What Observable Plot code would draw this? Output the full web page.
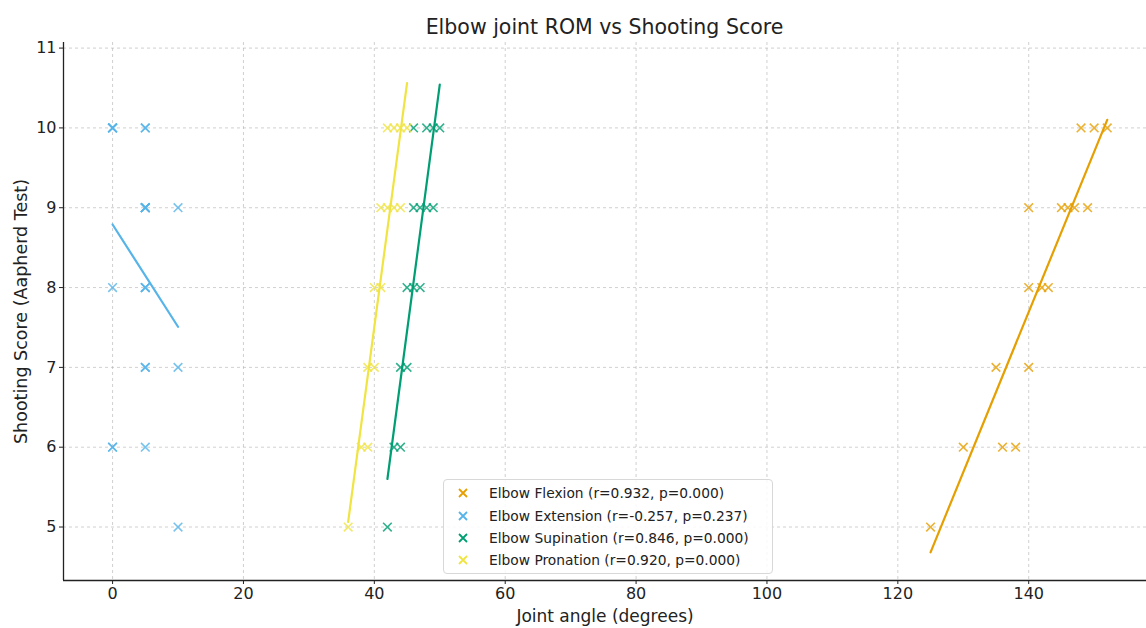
<!DOCTYPE html>
<html>
<head>
<meta charset="utf-8">
<script src="https://cdn.jsdelivr.net/npm/d3@7"></script>
<script src="https://cdn.jsdelivr.net/npm/@observablehq/plot@0.6"></script>
<style>
  html, body { margin: 0; padding: 0; background: #fff; }
  body { font-family: "DejaVu Sans", sans-serif; color: #222; }
  #wrap { position: relative; width: 1146px; height: 628px; overflow: hidden; }
  #title { box-sizing: border-box; height: 38px; padding-top: 15px; padding-left: 63px; font-size: 20.5px; line-height: 25px; text-align: center; white-space: nowrap; }
  #legend { position: absolute; left: 443px; top: 479px; width: 330px; height: 95px; box-sizing: border-box;
            border: 1px solid #d8d8d8; border-radius: 4px; background: rgba(255,255,255,0.85); font-size: 13.8px; padding-top: 2px; white-space: nowrap; }
  .row { height: 22.4px; display: flex; align-items: center; }
  .row svg { margin-left: 14px; margin-right: 21px; }
</style>
</head>
<body>
<div id="wrap">
  <div id="title">Elbow joint ROM vs Shooting Score</div>
  <div id="chart"></div>
  <div id="legend"></div>
</div>
<script>
// ---- Data ----
const seriesNames = ["Elbow Flexion", "Elbow Extension", "Elbow Supination", "Elbow Pronation"];
const seriesColors = ["#E69F00", "#56B4E9", "#009E73", "#F0E442"];
const seriesStats = ["(r=0.932, p=0.000)", "(r=-0.257, p=0.237)", "(r=0.846, p=0.000)", "(r=0.920, p=0.000)"];

const flexionAngle = [125, 130, 135, 136, 138, 140, 140, 140, 142, 143, 145, 146, 147, 149, 148, 150, 152];
const flexionScore = [5, 6, 7, 6, 6, 7, 8, 9, 8, 8, 9, 9, 9, 9, 10, 10, 10];

const extensionAngle = [0, 0, 0, 0, 5, 5, 5, 5, 5, 5, 10, 0, 5, 5, 5, 5, 10, 0, 0, 5, 10, 5, 5];
const extensionScore = [10, 10, 10, 10, 10, 10, 9, 9, 9, 9, 9, 8, 8, 8, 8, 7, 7, 6, 6, 6, 5, 9, 7];

const supinationAngle = [46, 48, 49, 50, 46, 47, 48, 49, 45, 46, 47, 44, 45, 43, 44, 42];
const supinationScore = [10, 10, 10, 10, 9, 9, 9, 9, 8, 8, 8, 7, 7, 6, 6, 5];

const pronationAngle = [42, 43, 44, 45, 41, 42, 43, 44, 40, 41, 39, 40, 38, 39, 36];
const pronationScore = [10, 10, 10, 10, 9, 9, 9, 9, 8, 8, 7, 7, 6, 6, 5];

const xTicks = [0, 20, 40, 60, 80, 100, 120, 140];
const yTicks = [5, 6, 7, 8, 9, 10, 11];
const xDomain = [-7.5, 158];
const yDomain = [4.33, 11.07];

// ---- Build table ----
const allAngles = [flexionAngle, extensionAngle, supinationAngle, pronationAngle];
const allScores = [flexionScore, extensionScore, supinationScore, pronationScore];
const rows = [];
seriesNames.forEach((name, i) => {
  allAngles[i].forEach((a, j) => rows.push({series: name, angle: a, score: allScores[i][j]}));
});

const color = {domain: seriesNames, range: seriesColors};

const chart = Plot.plot({
  width: 1146,
  height: 590,
  marginLeft: 63,
  marginRight: 0,
  marginTop: 4,
  marginBottom: 48,
  style: {fontFamily: "DejaVu Sans, sans-serif", fontSize: "16px", color: "#222", background: "#fff"},
  x: {domain: xDomain},
  y: {domain: yDomain},
  color,
  marks: [
    Plot.gridX(xTicks, {stroke: "#b0b0b0", strokeOpacity: 0.6, strokeDasharray: "3,3"}),
    Plot.gridY(yTicks, {stroke: "#b0b0b0", strokeOpacity: 0.6, strokeDasharray: "3,3"}),
    Plot.linearRegressionY(rows, {x: "angle", y: "score", z: "series", stroke: "series", ci: 0, strokeWidth: 2.2}),
    Plot.dot(rows, {x: "angle", y: "score", stroke: "series", symbol: "times", r: 4, strokeWidth: 1.6, strokeOpacity: 0.8}),
    Plot.ruleX([xDomain[0]], {stroke: "#222", strokeWidth: 1.3}),
    Plot.ruleY([yDomain[0]], {stroke: "#222", strokeWidth: 1.3}),
    Plot.axisX(xTicks, {tickSize: 4, tickPadding: 3, fontSize: 16, tickFormat: d => String(d), label: null}),
    Plot.axisY(yTicks, {tickSize: 4, tickPadding: 3, fontSize: 16, tickFormat: d => String(d), label: null}),
    Plot.axisX({tickSize: 0, ticks: [], label: "Joint angle (degrees)", labelAnchor: "center", labelArrow: "none", labelOffset: 41, fontSize: 17}),
    Plot.axisY({tickSize: 0, ticks: [], label: "Shooting Score (Aapherd Test)", labelAnchor: "center", labelArrow: "none", labelOffset: 49, fontSize: 17.5})
  ]
});
document.getElementById("chart").appendChild(chart);

// ---- Legend ----
const legend = document.getElementById("legend");
seriesNames.forEach((name, i) => {
  const row = document.createElement("div");
  row.className = "row";
  row.innerHTML = `<svg width="10" height="10" viewBox="0 0 10 10"><path d="M1,1L9,9M9,1L1,9" stroke="${seriesColors[i]}" stroke-width="1.8"/></svg><span>${name} ${seriesStats[i]}</span>`;
  legend.appendChild(row);
});
</script>
</body>
</html>
